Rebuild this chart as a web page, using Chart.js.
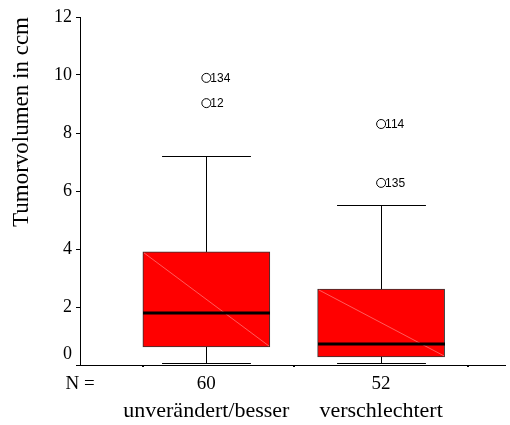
<!DOCTYPE html>
<html>
<head>
<meta charset="utf-8">
<script src="https://cdn.jsdelivr.net/npm/chart.js@4/dist/chart.umd.min.js"></script>
<style>
html,body{margin:0;padding:0;background:#fff;}
canvas{display:block;}
</style>
</head>
<body>
<canvas id="c" width="510" height="425"></canvas>
<script>
// ---- data ----
const categories = ['unverändert/besser', 'verschlechtert'];
const positions = [1, 2];
const nCounts = [60, 52];
const nLabel = 'N =';
const whiskerLow = [0.07, 0.07];
const q1 = [0.62, 0.28];
const median = [1.79, 0.72];
const q3 = [3.90, 2.62];
const whiskerHigh = [7.21, 5.52];
const outlierGroup = [0, 0, 1, 1];
const outlierValues = [9.9, 9.03, 8.31, 6.28];
const outlierIds = ['134', '12', '114', '135'];
const yTicks = [0, 2, 4, 6, 8, 10, 12];
const yTitle = 'Tumorvolumen in ccm';

const X_MIN = 0.277, X_MAX = 2.706;
const SERIF = "'Liberation Serif', 'Times New Roman', serif";
const SANS = "'Liberation Sans', Arial, sans-serif";

const boxPlugin = {
  id: 'boxExtras',
  afterDatasetsDraw(chart) {
    const ctx = chart.ctx;
    const xs = chart.scales.x, ys = chart.scales.y;
    const barMeta = chart.getDatasetMeta(0);
    ctx.save();
    positions.forEach((p, i) => {
      const bar = barMeta.data[i];
      const w = bar.width;
      const cx = Math.round(xs.getPixelForValue(p)) + 0.5;
      const yq1 = ys.getPixelForValue(q1[i]);
      const yq3 = ys.getPixelForValue(q3[i]);
      const yMed = ys.getPixelForValue(median[i]);
      const yHi = Math.round(ys.getPixelForValue(whiskerHigh[i])) + 0.5;
      const yLo = Math.round(ys.getPixelForValue(whiskerLow[i])) + 0.5;
      const capHalf = w * 0.35;
      // diagonal artifact
      ctx.strokeStyle = 'rgba(255,170,170,0.9)';
      ctx.lineWidth = 0.6;
      ctx.beginPath();
      ctx.moveTo(cx - w / 2 + 1, yq3 + 1);
      ctx.lineTo(cx + w / 2 - 1, yq1 - 1);
      ctx.stroke();
      // whiskers
      ctx.strokeStyle = '#000';
      ctx.lineWidth = 1;
      ctx.beginPath();
      ctx.moveTo(cx, yq3); ctx.lineTo(cx, yHi);
      ctx.moveTo(cx - capHalf, yHi); ctx.lineTo(cx + capHalf, yHi);
      ctx.moveTo(cx, yq1); ctx.lineTo(cx, yLo);
      ctx.moveTo(cx - capHalf, yLo); ctx.lineTo(cx + capHalf, yLo);
      ctx.stroke();
      // median
      ctx.lineWidth = 3;
      ctx.beginPath();
      ctx.moveTo(cx - w / 2, yMed); ctx.lineTo(cx + w / 2, yMed);
      ctx.stroke();
    });
    // outlier labels
    const om = chart.getDatasetMeta(1);
    ctx.fillStyle = '#000';
    ctx.font = '12px ' + SANS;
    ctx.textAlign = 'left';
    ctx.textBaseline = 'middle';
    om.data.forEach((pt, k) => {
      ctx.fillText(outlierIds[k], pt.x + 4, pt.y + 0.5);
    });
    ctx.restore();
  }
};

function fitX(h) {
  return (axis) => { axis.height = h; axis.paddingLeft = 0; axis.paddingRight = 0; };
}

new Chart(document.getElementById('c'), {
  type: 'bar',
  data: {
    datasets: [
      {
        type: 'bar',
        data: positions.map((p, i) => ({ x: p, y: [q1[i], q3[i]] })),
        backgroundColor: '#ff0000',
        borderColor: '#333333',
        borderWidth: 1,
        borderSkipped: false,
        barThickness: 127
      },
      {
        type: 'scatter',
        data: outlierValues.map((v, k) => ({ x: positions[outlierGroup[k]], y: v })),
        pointStyle: 'circle',
        pointRadius: 4.5,
        pointBackgroundColor: 'rgba(0,0,0,0)',
        pointBorderColor: '#000',
        pointBorderWidth: 1
      }
    ]
  },
  options: {
    responsive: false,
    animation: false,
    layout: { padding: { top: 17, right: 0, left: 0, bottom: 0 } },
    plugins: { legend: { display: false }, tooltip: { enabled: false } },
    scales: {
      x: {
        type: 'linear',
        position: 'bottom',
        weight: 0,
        offset: false,
        min: X_MIN, max: X_MAX,
        afterBuildTicks: (axis) => { axis.ticks = [X_MIN].concat(positions).map(v => ({ value: v })); },
        afterFit: fitX(30),
        border: { display: true, color: '#000', width: 1 },
        grid: { drawOnChartArea: false, drawTicks: true, tickLength: 2, color: '#000', lineWidth: 2 },
        ticks: {
          autoSkip: false, maxRotation: 0, padding: 6, color: '#000',
          font: { family: SERIF, size: 19 },
          callback: (v) => v === X_MIN ? nLabel : String(nCounts[positions.indexOf(v)])
        }
      },
      x2: {
        type: 'linear',
        position: 'bottom',
        weight: 1,
        offset: false,
        min: X_MIN, max: X_MAX,
        afterBuildTicks: (axis) => { axis.ticks = positions.map(v => ({ value: v })); },
        afterFit: fitX(30),
        border: { display: false },
        grid: { display: false, drawTicks: false },
        ticks: {
          autoSkip: false, maxRotation: 0, padding: 3, color: '#000',
          font: { family: SERIF, size: 22 },
          callback: (v) => categories[positions.indexOf(v)]
        }
      },
      y: {
        type: 'linear',
        min: 0, max: 12,
        afterBuildTicks: (axis) => { axis.ticks = yTicks.map(v => ({ value: v })); },
        afterFit: (axis) => { axis.width = 80; },
        border: { display: true, color: '#000', width: 1 },
        grid: { drawOnChartArea: false, drawTicks: true, tickLength: 4, color: '#000' },
        ticks: {
          padding: 4, color: '#000',
          font: { family: SERIF, size: 18 },
          // the zero label sits raised above the baseline, as in the original
          callback: (v) => v === 0 ? [String(v), ''] : String(v)
        },
        title: {
          display: true, text: yTitle, align: 'end', color: '#000',
          font: { family: SERIF, size: 23 },
          padding: { top: 8, bottom: 0 }
        }
      }
    }
  },
  plugins: [boxPlugin]
});
</script>
</body>
</html>
